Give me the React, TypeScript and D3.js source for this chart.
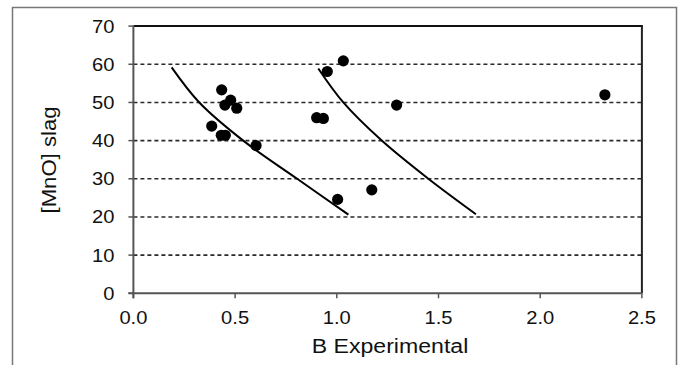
import React from "react";
import * as d3 from "d3";

const W = 683;
const H = 365;

const xTicks = [0, 0.5, 1.0, 1.5, 2.0, 2.5];
const yTicks = [0, 10, 20, 30, 40, 50, 60, 70];

const pointsX = [0.434, 0.478, 0.45, 0.508, 0.385, 0.432, 0.452, 0.603, 1.004, 0.901, 0.934, 0.953, 1.032, 1.294, 1.172, 2.318];
const pointsY = [53.3, 50.6, 49.3, 48.5, 43.8, 41.4, 41.4, 38.7, 24.6, 46.0, 45.8, 58.1, 60.9, 49.3, 27.1, 52.0];

const curve1X = [0.188, 0.324, 0.54, 0.805, 1.057];
const curve1Y = [59.2, 50, 40, 30, 20.6];
const curve2X = [0.909, 1.032, 1.221, 1.45, 1.684];
const curve2Y = [58.9, 50, 40, 30, 20.7];

const FONT = "'Liberation Sans', Arial, Helvetica, sans-serif";

export default function App() {
  const x = d3.scaleLinear().domain([0, 2.5]).range([133.4, 641.9]);
  const y = d3.scaleLinear().domain([0, 70]).range([293.3, 26.1]);

  const line = d3
    .line<[number, number]>()
    .x((d) => x(d[0]))
    .y((d) => y(d[1]))
    .curve(d3.curveCatmullRom.alpha(0.5));

  const c1 = curve1X.map((v, i) => [v, curve1Y[i]] as [number, number]);
  const c2 = curve2X.map((v, i) => [v, curve2Y[i]] as [number, number]);

  const [x0, x1] = x.range();
  const [yb, yt] = y.range();

  return (
    <svg
      width={W}
      height={H}
      style={{ position: "absolute", left: 0, top: 0, background: "#fff" }}
      fontFamily={FONT}
    >
      <rect x={0} y={0} width={W} height={H} fill="#fff" />
      {/* outer frame */}
      <rect x={12.5} y={7.5} width={664} height={420} fill="none" stroke="#777" strokeWidth={1.5} />

      {/* dashed gridlines */}
      {yTicks
        .filter((t) => t > 0 && t < 70)
        .map((t) => (
          <line
            key={"g" + t}
            x1={x0}
            x2={x1}
            y1={y(t)}
            y2={y(t)}
            stroke="#2a2a2a"
            strokeWidth={1.6}
            strokeDasharray="4,3"
          />
        ))}

      {/* plot border top/right */}
      <line x1={x0} x2={x1 + 1} y1={yt} y2={yt} stroke="#111" strokeWidth={2} />
      <line x1={x1} x2={x1} y1={yt} y2={yb} stroke="#222" strokeWidth={2} />

      {/* axes */}
      <line x1={x0} x2={x0} y1={yt} y2={yb + 5} stroke="#555" strokeWidth={2} />
      <line x1={x0 - 5} x2={x1} y1={yb} y2={yb} stroke="#555" strokeWidth={2} />

      {yTicks.map((t) => (
        <g key={"yt" + t}>
          <line x1={x0 - 5} x2={x0} y1={y(t)} y2={y(t)} stroke="#555" strokeWidth={1.5} />
          <text
            transform={`translate(${x0 - 19},${y(t) + 6.5}) scale(1.12,1)`}
            textAnchor="end"
            fontSize={18}
            fill="#111"
          >
            {t}
          </text>
        </g>
      ))}

      {xTicks.map((t) => (
        <g key={"xt" + t}>
          <line x1={x(t)} x2={x(t)} y1={yb} y2={yb + 5} stroke="#555" strokeWidth={1.5} />
          <text
            transform={`translate(${x(t)},${323.5}) scale(1.12,1)`}
            textAnchor="middle"
            fontSize={18}
            fill="#111"
          >
            {t.toFixed(1)}
          </text>
        </g>
      ))}

      {/* curves */}
      <path d={line(c1) || ""} fill="none" stroke="#000" strokeWidth={2} />
      <path d={line(c2) || ""} fill="none" stroke="#000" strokeWidth={2} />

      {/* points */}
      {pointsX.map((v, i) => (
        <circle key={"p" + i} cx={x(v)} cy={y(pointsY[i])} r={5.6} fill="#000" />
      ))}

      {/* axis titles */}
      <text
        transform={`translate(390,353.3) scale(1.1,1)`}
        textAnchor="middle"
        fontSize={21}
        fill="#111"
      >
        B Experimental
      </text>
      <text
        transform={`translate(55.5,160) rotate(-90) scale(1.08,1)`}
        textAnchor="middle"
        fontSize={20.5}
        fill="#111"
      >
        [MnO] slag
      </text>
    </svg>
  );
}
